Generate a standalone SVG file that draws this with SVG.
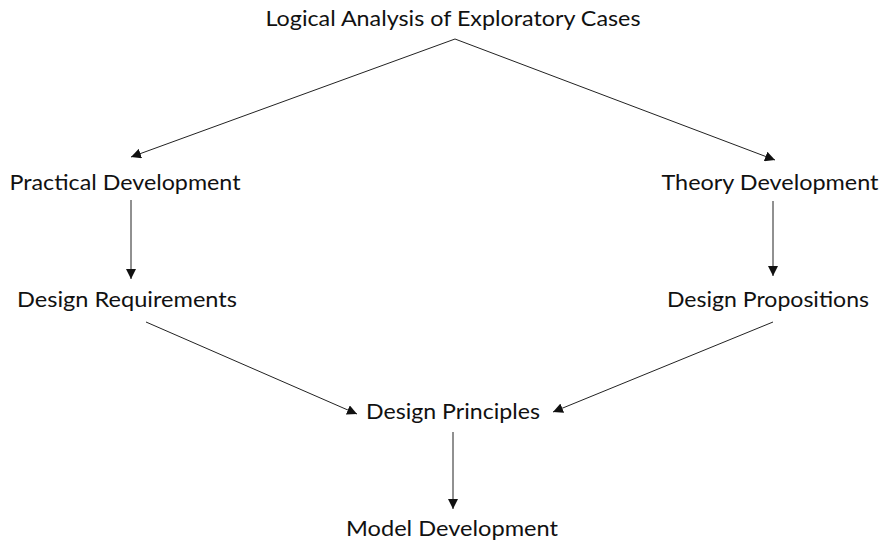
<svg xmlns="http://www.w3.org/2000/svg" width="884" height="543" viewBox="0 0 884 543">
<style>
text{font-family:Lato,"Open Sans","Liberation Sans",sans-serif;font-size:22px;fill:#111;text-anchor:middle}
.c line{stroke:#222;stroke-width:1;fill:none;marker-end:url(#ah)}
</style>
<defs>
<marker id="ah" viewBox="0 0 10 10" refX="10" refY="5" markerWidth="10" markerHeight="10" markerUnits="userSpaceOnUse" orient="auto">
<path d="M0,0 L10,5 L0,10 z" fill="#111"/>
</marker>
</defs>
<rect width="884" height="543" fill="#fff"/>
<g class="c" id="connectors">
<line x1="455" y1="39" x2="131" y2="157"/>
<line x1="455" y1="39" x2="775" y2="160"/>
<line x1="131" y1="200" x2="131" y2="279"/>
<line x1="773" y1="201" x2="773" y2="276"/>
<line x1="146" y1="322" x2="357" y2="414"/>
<line x1="773" y1="322" x2="553" y2="412"/>
<line x1="453" y1="432" x2="453" y2="509"/>
</g>
<g id="n1"><text x="453" y="26" textLength="375" lengthAdjust="spacingAndGlyphs">Logical Analysis of Exploratory Cases</text></g>
<g id="n2"><text x="125" y="190" textLength="231" lengthAdjust="spacingAndGlyphs">Practical Development</text></g>
<g id="n3"><text x="770" y="190" textLength="217" lengthAdjust="spacingAndGlyphs">Theory Development</text></g>
<g id="n4"><text x="127" y="307" textLength="220" lengthAdjust="spacingAndGlyphs">Design Requirements</text></g>
<g id="n5"><text x="768" y="307" textLength="202" lengthAdjust="spacingAndGlyphs">Design Propositions</text></g>
<g id="n6"><text x="453" y="419" textLength="174" lengthAdjust="spacingAndGlyphs">Design Principles</text></g>
<g id="n7"><text x="452" y="536" textLength="212" lengthAdjust="spacingAndGlyphs">Model Development</text></g>
</svg>
